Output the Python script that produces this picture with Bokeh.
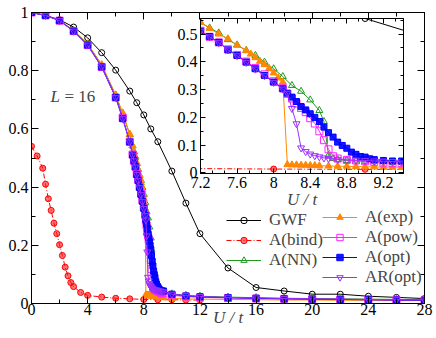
import numpy as np
from bokeh.plotting import figure
from bokeh.models import Range1d, LinearAxis, FixedTicker, Legend, LegendItem, Label
from bokeh.layouts import column
from bokeh.embed import file_html
from bokeh.resources import INLINE

FONT = "Liberation Serif"

# ---------------- data ----------------
U_gwf = [0, 1, 2, 3, 4, 5, 6, 7, 7.5, 8, 8.5, 9, 10, 11, 12, 14, 16, 18, 20, 22, 24, 26, 28]
Z_gwf = [1.0, 0.99, 0.975, 0.95, 0.913, 0.862, 0.802, 0.73, 0.69, 0.648, 0.60, 0.556,
         0.455, 0.345, 0.24, 0.122, 0.055, 0.043, 0.032, 0.032, 0.025, 0.021, 0.017]

U_bind = [0, 0.4, 0.8, 1.0, 1.2, 1.4, 1.6, 1.8, 2.0, 2.2, 2.4, 2.6, 2.8, 3.0, 3.5, 4,
          5, 6, 7, 8, 9, 10, 11, 12]
Z_bind = [0.54, 0.507, 0.465, 0.41, 0.36, 0.32, 0.276, 0.24, 0.202, 0.165, 0.125, 0.095,
          0.072, 0.058, 0.038, 0.028, 0.022, 0.018, 0.016, 0.014, 0.013, 0.013, 0.012, 0.012]

U_nn = [0, 1, 2, 3, 4, 5, 6, 6.5, 7,
        7.2, 7.3, 7.4, 7.5, 7.6, 7.7, 7.8, 7.9, 8.0, 8.1, 8.2, 8.3, 8.4, 8.5,
        8.55, 8.6, 8.65, 8.7, 8.8, 8.9, 9.0, 9.1, 9.2, 9.3, 9.4,
        10, 11, 12, 14, 16, 18, 20, 22, 24, 26, 28]
Z_nn = [1.0, 0.99, 0.973, 0.938, 0.892, 0.82, 0.715, 0.652, 0.58,
        0.542, 0.522, 0.504, 0.48, 0.461, 0.441, 0.423, 0.399, 0.375, 0.347, 0.315, 0.294, 0.263, 0.225,
        0.185, 0.063, 0.052, 0.048, 0.045, 0.043, 0.042, 0.041, 0.04, 0.039, 0.038,
        0.033, 0.028, 0.025, 0.022, 0.02, 0.018, 0.017, 0.016, 0.015, 0.014, 0.013]

U_exp = [0, 1, 2, 3, 4, 5, 6, 6.5, 7,
         7.2, 7.3, 7.4, 7.5, 7.6, 7.7, 7.75, 7.8, 7.85, 7.9, 7.95, 8.0, 8.05, 8.1,
         8.15, 8.2, 8.25, 8.3, 8.35, 8.4, 8.45, 8.5,
         8.6, 8.7, 8.8, 8.9, 9.0, 9.1, 9.2, 9.3, 9.4,
         10, 11, 12, 14, 16, 18, 20, 22, 24, 26, 28]
Z_exp = [1.0, 0.99, 0.973, 0.938, 0.892, 0.82, 0.717, 0.655, 0.582,
         0.542, 0.52, 0.5, 0.483, 0.46, 0.44, 0.428, 0.415, 0.402, 0.39, 0.376, 0.36, 0.342, 0.327,
         0.03, 0.029, 0.029, 0.028, 0.028, 0.027, 0.027, 0.026,
         0.025, 0.024, 0.024, 0.023, 0.022, 0.022, 0.021, 0.021, 0.02,
         0.018, 0.016, 0.015, 0.014, 0.013, 0.012, 0.012, 0.011, 0.011, 0.01, 0.01]

U_pow = [0, 1, 2, 3, 4, 5, 6, 6.5, 7,
         7.2, 7.3, 7.4, 7.5, 7.6, 7.7, 7.8, 7.9, 8.0, 8.1,
         8.15, 8.2, 8.25, 8.3, 8.35, 8.4, 8.45, 8.5, 8.55, 8.6, 8.65, 8.7,
         8.8, 8.9, 9.0, 9.1, 9.2, 9.3, 9.4,
         10, 11, 12, 14, 16, 18, 20, 22, 24, 26, 28]
Z_pow = [1.0, 0.99, 0.972, 0.936, 0.888, 0.813, 0.708, 0.638, 0.556,
         0.512, 0.49, 0.47, 0.445, 0.425, 0.401, 0.378, 0.355, 0.33, 0.305,
         0.285, 0.268, 0.25, 0.234, 0.219, 0.197, 0.178, 0.15, 0.118, 0.085, 0.06, 0.052,
         0.047, 0.045, 0.042, 0.04, 0.037, 0.035, 0.035,
         0.028, 0.024, 0.021, 0.019, 0.017, 0.016, 0.015, 0.014, 0.013, 0.012, 0.011]

U_opt = [0, 1, 2, 3, 4, 5, 6, 6.5, 7,
         7.2, 7.3, 7.4, 7.5, 7.6, 7.7, 7.8, 7.9, 8.0, 8.1,
         8.15, 8.2, 8.25, 8.3, 8.35, 8.4, 8.45, 8.5, 8.55, 8.6, 8.65, 8.7, 8.75, 8.8,
         8.85, 8.9, 8.95, 9.0, 9.05, 9.1, 9.2, 9.3, 9.4,
         10, 11, 12, 14, 16, 18, 20, 22, 24, 26, 28]
Z_opt = [1.0, 0.99, 0.972, 0.936, 0.888, 0.813, 0.708, 0.635, 0.555,
         0.51, 0.491, 0.47, 0.443, 0.423, 0.399, 0.375, 0.351, 0.327, 0.303,
         0.287, 0.273, 0.257, 0.239, 0.227, 0.213, 0.2, 0.185, 0.165, 0.145, 0.129, 0.111, 0.099, 0.089,
         0.075, 0.067, 0.059, 0.057, 0.051, 0.048, 0.045, 0.043, 0.043,
         0.032, 0.026, 0.023, 0.02, 0.018, 0.016, 0.015, 0.014, 0.013, 0.012, 0.011]

U_ropt = [0, 1, 2, 3, 4, 5, 6, 6.5, 7,
          7.2, 7.3, 7.4, 7.5, 7.6, 7.7, 7.8, 7.9, 8.0, 8.1,
          8.15, 8.2, 8.25, 8.3, 8.35, 8.4, 8.45, 8.5, 8.55, 8.6,
          8.7, 8.8, 8.9, 9.0, 9.1, 9.2, 9.3, 9.4,
          10, 11, 12, 14, 16, 18, 20, 22, 24, 26, 28]
Z_ropt = [1.0, 0.99, 0.972, 0.936, 0.888, 0.813, 0.708, 0.635, 0.555,
          0.51, 0.49, 0.469, 0.443, 0.422, 0.398, 0.374, 0.35, 0.326, 0.302,
          0.287, 0.232, 0.177, 0.09, 0.077, 0.068, 0.062, 0.058, 0.054, 0.052,
          0.049, 0.047, 0.046, 0.045, 0.043, 0.042, 0.041, 0.04,
          0.032, 0.027, 0.024, 0.021, 0.019, 0.017, 0.016, 0.015, 0.014, 0.013, 0.012]

# tick labels
main_x_ticks = [0, 4, 8, 12, 16, 20, 24, 28]
main_x_labels = ["0", "4", "8", "12", "16", "20", "24", "28"]
main_y_ticks = [0, 0.2, 0.4, 0.6, 0.8, 1]
main_y_labels = ["0", "0.2", "0.4", "0.6", "0.8", "1"]
ins_x_ticks = [7.2, 7.6, 8, 8.4, 8.8, 9.2]
ins_x_labels = ["7.2", "7.6", "8", "8.4", "8.8", "9.2"]
ins_y_ticks = [0, 0.1, 0.2, 0.3, 0.4, 0.5]
ins_y_labels = ["0", "0.1", "0.2", "0.3", "0.4", "0.5"]

# ---------------- styles ----------------
SERIES = [
    # name, U, Z, color, marker, size, fill, fill_alpha, dash
    ("GWF", U_gwf, Z_gwf, "black", "circle", 6, None, 0.0, "solid"),
    ("A(bind)", U_bind, Z_bind, "#ff0000", "circle", 6, "#ff0000", 0.55, "5 2 1 2"),
    ("A(NN)", U_nn, Z_nn, "#1f9a1f", "triangle", 7, None, 0.0, "solid"),
    ("A(exp)", U_exp, Z_exp, "#ff8800", "triangle", 7, "#ff8800", 1.0, "solid"),
    ("A(pow)", U_pow, Z_pow, "#ff22ff", "square", 7, None, 0.0, "solid"),
    ("A(opt)", U_opt, Z_opt, "#0000ff", "square", 6, "#0000ff", 0.9, "solid"),
    ("AR(opt)", U_ropt, Z_ropt, "#9b30ff", "inverted_triangle", 7, None, 0.0, "solid"),
]


def style_axis(ax, ticks, labels, minor, major_len, minor_len, font_size, standoff, show=True):
    ax.ticker = FixedTicker(ticks=ticks, minor_ticks=minor)
    ax.major_tick_in = major_len
    ax.major_tick_out = 0
    ax.minor_tick_in = minor_len
    ax.minor_tick_out = 0
    ax.axis_line_color = "black"
    ax.major_tick_line_color = "black"
    ax.minor_tick_line_color = "black"
    ax.major_label_text_font = FONT
    if show:
        ax.major_label_overrides = {t: s for t, s in zip(ticks, labels)}
        ax.major_label_text_color = "black"
        ax.major_label_text_font_size = font_size
        ax.major_label_standoff = standoff
    else:
        ax.major_label_text_color = None
        ax.major_label_text_alpha = 0
        ax.major_label_text_font_size = "1px"
        ax.major_label_standoff = 0


def draw_series(fig):
    out = {}
    for name, U, Z, color, marker, size, fill, falpha, dash in SERIES:
        ln = fig.line(U, Z, line_color=color, line_width=1, line_dash=dash)
        sc = fig.scatter(U, Z, marker=marker, size=size, line_color=color, line_width=1,
                         fill_color=fill, fill_alpha=falpha)
        out[name] = [ln, sc]
    return out


# ---------------- main figure ----------------
p = figure(width=436, height=338, x_range=Range1d(0, 28), y_range=Range1d(0, 1),
           output_backend="svg", toolbar_location=None,
           min_border_left=31, min_border_right=12, min_border_top=12, min_border_bottom=35)
p.grid.visible = False
p.outline_line_color = "black"
p.background_fill_color = "white"
p.border_fill_color = "white"

mx_minor = [float(v) for v in np.arange(0, 28.01, 2)]
my_minor = [round(float(v), 2) for v in np.arange(0, 1.001, 0.1)]

style_axis(p.xaxis[0], main_x_ticks, main_x_labels, mx_minor, 7, 4, "16px", 0)
style_axis(p.yaxis[0], main_y_ticks, main_y_labels, my_minor, 7, 4, "16px", 3)
p.xaxis[0].axis_label = "U / t"
p.xaxis[0].axis_label_text_font = FONT
p.xaxis[0].axis_label_text_font_style = "italic"
p.xaxis[0].axis_label_text_font_size = "17px"
p.xaxis[0].axis_label_standoff = -10

top_ax = LinearAxis()
style_axis(top_ax, main_x_ticks, main_x_labels, mx_minor, 7, 4, "16px", 0, show=False)
p.add_layout(top_ax, "above")
right_ax = LinearAxis()
style_axis(right_ax, main_y_ticks, main_y_labels, my_minor, 7, 4, "16px", 0, show=False)
p.add_layout(right_ax, "right")

rs = draw_series(p)

leg_common = dict(border_line_alpha=0, background_fill_alpha=0, padding=0, margin=0, spacing=-2,
                  glyph_width=35, glyph_height=16, label_height=16, label_standoff=8,
                  label_text_font=FONT, label_text_font_size="17px",
                  label_text_line_height=0.95)
leg1 = Legend(items=[LegendItem(label=n, renderers=rs[n]) for n in ["GWF", "A(bind)", "A(NN)"]],
              location=(195, 33), **leg_common)
leg2 = Legend(items=[LegendItem(label=n, renderers=rs[n]) for n in ["A(exp)", "A(pow)", "A(opt)", "AR(opt)"]],
              location=(291, 16), **leg_common)
p.add_layout(leg1)
p.add_layout(leg2)

p.add_layout(Label(x=-14, y=0.48, x_units="screen", y_units="data", text="Z", angle=np.pi / 2,
                   text_align="center", text_baseline="middle", text_font=FONT,
                   text_font_style="italic", text_font_size="17px"))
p.add_layout(Label(x=1.35, y=0.71, text="L", text_align="left", text_baseline="middle",
                   text_font=FONT, text_font_style="italic", text_font_size="17px"))
p.add_layout(Label(x=1.35, y=0.71, x_offset=14, text="= 16", text_align="left", text_baseline="middle",
                   text_font=FONT, text_font_size="17px"))

# ---------------- inset ----------------
q = figure(width=246, height=198, x_range=Range1d(7.2, 9.42), y_range=Range1d(-0.002, 0.556),
           output_backend="svg", toolbar_location=None,
           min_border_left=24, min_border_right=3, min_border_top=3, min_border_bottom=40,
           styles={"position": "absolute", "left": "169px", "top": "15px", "z-index": "10"})
q.grid.visible = False
q.outline_line_color = "black"
q.background_fill_color = "white"
q.border_fill_alpha = 0

ix_minor = [round(float(v), 4) for v in np.arange(7.2, 9.43, 0.4 / 3)]
iy_minor = [round(float(v), 3) for v in np.arange(0, 0.56, 0.05)]
style_axis(q.xaxis[0], ins_x_ticks, ins_x_labels, ix_minor, 5, 3, "16px", 3)
style_axis(q.yaxis[0], ins_y_ticks, ins_y_labels, iy_minor, 5, 3, "16px", 3)
q.xaxis[0].axis_label = "U / t"
q.xaxis[0].axis_label_text_font = FONT
q.xaxis[0].axis_label_text_font_style = "italic"
q.xaxis[0].axis_label_text_font_size = "17px"
q.xaxis[0].axis_label_standoff = -1

qt = LinearAxis()
style_axis(qt, ins_x_ticks, ins_x_labels, ix_minor, 5, 3, "16px", 0, show=False)
q.add_layout(qt, "above")
qr = LinearAxis()
style_axis(qr, ins_y_ticks, ins_y_labels, iy_minor, 5, 3, "16px", 0, show=False)
q.add_layout(qr, "right")

draw_series(q)
q.add_layout(Label(x=-17, y=0.25, x_units="screen", y_units="data", text="Z", angle=np.pi / 2,
                   text_align="center", text_baseline="middle", text_font=FONT,
                   text_font_style="italic", text_font_size="17px"))

root = column(p, q, styles={"position": "relative"})
open("out.html", "w").write(file_html(root, INLINE))
